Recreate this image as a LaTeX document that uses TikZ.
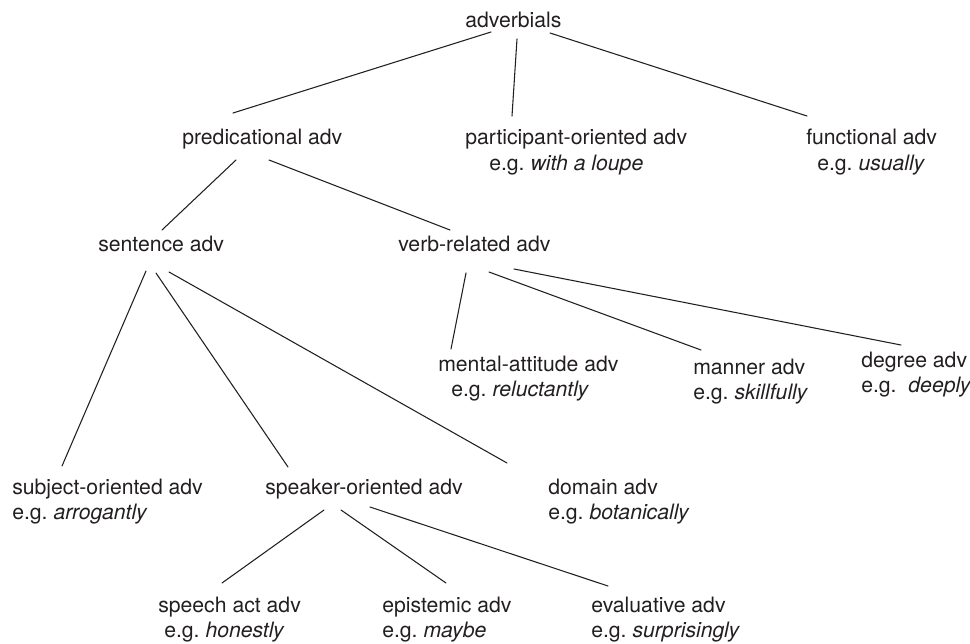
\documentclass[tikz,border=0pt]{standalone}
\usepackage{fontspec}
\setmainfont{TeX Gyre Heros}
\usepackage{tikz}
\usetikzlibrary{calc}
\definecolor{inkdark}{HTML}{231F20}
\newcommand{\egx}[1]{e.g.\ \textit{#1}}
\tikzset{
  tr lab/.style={font=\fontsize{15.9}{19}\selectfont, text=inkdark, inner sep=0pt, anchor=base west},
  tr line/.style={draw=inkdark, line width=0.8pt, line cap=round},
}

\begin{document}
\begin{tikzpicture}[x=0.75pt, y=-0.75pt]
  \useasboundingbox (0,0) rectangle (970,643);
  % root
  \node[tr lab] (adv) at (465,27) {adverbials};
  % second row
  \node[tr lab] (pred) at (182,144) {predicational adv};
  \node[tr lab] (part) at (465,144) {participant-oriented adv};
  \node[tr lab] (parteg) at (489,170) {\egx{with a loupe}};
  \node[tr lab] (func) at (806,144) {functional adv};
  \node[tr lab] (funceg) at (817,170) {\egx{usually}};
  % third row
  \node[tr lab] (sent) at (98,251) {sentence adv};
  \node[tr lab] (verb) at (398,251) {verb-related adv};
  % verb-related children
  \node[tr lab] (ment) at (438,371) {mental-attitude adv};
  \node[tr lab] (menteg) at (451,396) {\egx{reluctantly}};
  \node[tr lab] (mann) at (693,374) {manner adv};
  \node[tr lab] (manneg) at (693,399) {\egx{skillfully}};
  \node[tr lab] (degr) at (861,367) {degree adv};
  \node[tr lab] (degreg) at (861,392) {e.g.\ \ \textit{deeply}};
  % sentence adv children
  \node[tr lab] (subj) at (12,494) {subject-oriented adv};
  \node[tr lab] (subjeg) at (12,519) {\egx{arrogantly}};
  \node[tr lab] (spkr) at (265,494) {speaker-oriented adv};
  \node[tr lab] (domn) at (548,494) {domain adv};
  \node[tr lab] (domneg) at (548,519) {\egx{botanically}};
  % speaker-oriented children
  \node[tr lab] (spch) at (158,612) {speech act adv};
  \node[tr lab] (spcheg) at (164,637) {\egx{honestly}};
  \node[tr lab] (epis) at (382,612) {epistemic adv};
  \node[tr lab] (episeg) at (382,637) {\egx{maybe}};
  \node[tr lab] (eval) at (591,612) {evaluative adv};
  \node[tr lab] (evaleg) at (591,637) {\egx{surprisingly}};
  % branches: parent/offset -- child/offset
  \foreach \a/\ax/\ay/\b/\bx/\by in {adv/26/5/pred/51/-31, adv/52/12/part/47/-28, adv/85/6/func/1/-28,
      pred/54/16/sent/64/-21, pred/87/16/verb/52/-21,
      verb/68/22/ment/13/-22, verb/91/21/mann/8/-24, verb/116/18/degr/40/-22,
      sent/48/20/subj/50/-28, sent/58/22/spkr/23/-27, sent/71/21/domn/-41/-31,
      spkr/59/16/spch/64/-29, spkr/76/16/epis/64/-29, spkr/105/13/eval/17/-26}
    \draw[tr line] ($(\a.base west)+(\ax,\ay)$) -- ($(\b.base west)+(\bx,\by)$);
\end{tikzpicture}
\end{document}
